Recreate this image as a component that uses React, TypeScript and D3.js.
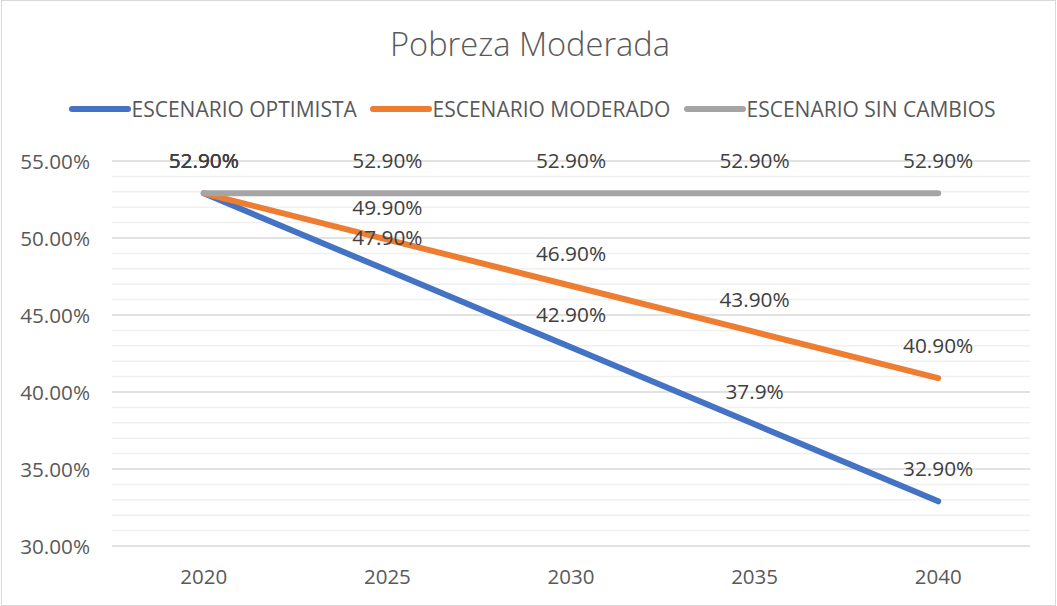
import React from "react";
import * as d3 from "d3";

const years = ["2020", "2025", "2030", "2035", "2040"];
const optimista = [52.9, 47.9, 42.9, 37.9, 32.9];
const moderado = [52.9, 49.9, 46.9, 43.9, 40.9];
const sinCambios = [52.9, 52.9, 52.9, 52.9, 52.9];
const optimistaLabels = ["52.90%", "47.90%", "42.90%", "37.9%", "32.90%"];
const moderadoLabels = ["52.90%", "49.90%", "46.90%", "43.90%", "40.90%"];
const sinCambiosLabels = ["52.90%", "52.90%", "52.90%", "52.90%", "52.90%"];
const yTicks = [30, 35, 40, 45, 50, 55];
const title = "Pobreza Moderada";

const series = [
  { name: "ESCENARIO OPTIMISTA", values: optimista, labels: optimistaLabels, color: "#4472C4" },
  { name: "ESCENARIO MODERADO", values: moderado, labels: moderadoLabels, color: "#ED7D31" },
  { name: "ESCENARIO SIN CAMBIOS", values: sinCambios, labels: sinCambiosLabels, color: "#A5A5A5" },
];

const W = 1057;
const H = 606;
const FONT = "'Open Sans', sans-serif";

export default function App() {
  const x = d3.scaleBand<string>().domain(years).range([112, 1030]);
  const y = d3.scaleLinear().domain([30, 55]).range([546, 161]);
  const minor = d3.range(30, 55.01, 1);
  const line = d3
    .line<number>()
    .x((_, i) => (x(years[i]) as number) + x.bandwidth() / 2)
    .y((d) => y(d));

  const legendX = [72, 373, 687];

  return (
    <svg
      width={W}
      height={H}
      style={{ position: "absolute", left: 0, top: 0, background: "#fff" }}
      fontFamily={FONT}
    >
      <rect x={1.5} y={0.5} width={W - 3} height={H - 1} fill="#fff" stroke="#d9d9d9" />
      <text x={530} y={56} textAnchor="middle" fontSize={32.6} fontWeight={300} fill="#595959">
        {title}
      </text>
      {series.map((s, i) => (
        <g key={s.name}>
          <line
            x1={legendX[i]}
            x2={legendX[i] + 56}
            y1={109}
            y2={109}
            stroke={s.color}
            strokeWidth={6}
            strokeLinecap="round"
          />
          <text x={legendX[i] + 59.5} y={116.5} fontSize={21} fill="#595959">
            {s.name}
          </text>
        </g>
      ))}
      {minor.map((v) => (
        <line
          key={"g" + v}
          x1={112}
          x2={1030}
          y1={y(v)}
          y2={y(v)}
          stroke={v % 5 === 0 ? "#d9d9d9" : "#f0f0f0"}
          strokeWidth={1.5}
        />
      ))}
      {yTicks.map((v) => (
        <text key={"t" + v} x={90} y={y(v) + 7.5} textAnchor="end" fontSize={20.7} fill="#595959">
          {v.toFixed(2) + "%"}
        </text>
      ))}
      {years.map((yr) => (
        <text
          key={yr}
          x={(x(yr) as number) + x.bandwidth() / 2}
          y={584}
          textAnchor="middle"
          fontSize={20.5}
          fill="#595959"
        >
          {yr}
        </text>
      ))}
      {series.map((s) => (
        <path
          key={"p" + s.name}
          d={line(s.values) || ""}
          fill="none"
          stroke={s.color}
          strokeWidth={6}
          strokeLinecap="round"
          strokeLinejoin="round"
        />
      ))}
      {series.map((s) =>
        s.values.map((v, i) => (
          <text
            key={"l" + s.name + i}
            x={(x(years[i]) as number) + x.bandwidth() / 2}
            y={y(v) - 25}
            textAnchor="middle"
            fontSize={20.8}
            fill="#404040"
          >
            {s.labels[i]}
          </text>
        ))
      )}
    </svg>
  );
}
